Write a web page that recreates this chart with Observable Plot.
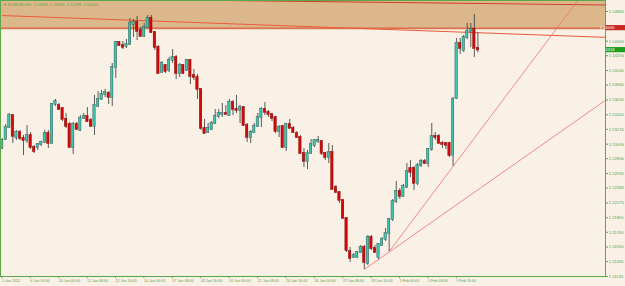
<!DOCTYPE html>
<html><head><meta charset="utf-8">
<script src="https://cdn.jsdelivr.net/npm/d3@7"></script>
<script src="https://cdn.jsdelivr.net/npm/@observablehq/plot@0.6"></script>
<style>
html,body{margin:0;padding:0;background:#f9f0e6;overflow:hidden;}
#chart{width:625px;height:286px;}
</style></head><body><div id="chart"></div>
<script>
// ---- data (EURUSD H4, first bar 5 Jan 2022 08:00) ----
const symbolName = "EURUSD,H4";
const headerQuote = ["1.14363", "1.14838", "1.14298", "1.14334"];

const opens = [1.12944,1.13071,1.13241,1.13410,1.13099,1.13170,1.13085,1.13057,1.13128,1.12958,
1.12958,1.13000,1.13029,1.13156,1.13015,1.13566,1.13552,1.13509,1.13354,1.13283,
1.12958,1.13283,1.13198,1.13368,1.13396,1.13340,1.13255,1.13537,1.13636,1.13707,
1.13721,1.13665,1.14089,1.14442,1.14400,1.14385,1.14414,1.14696,1.14725,1.14612,
1.14527,1.14654,1.14781,1.14583,1.14371,1.14018,1.14117,1.14046,1.14188,1.14230,
1.14004,1.14117,1.14046,1.14188,1.13976,1.13947,1.13778,1.13227,1.13170,1.13212,
1.13297,1.13396,1.13424,1.13439,1.13410,1.13594,1.13495,1.13481,1.13523,1.13269,
1.13099,1.13170,1.13255,1.13382,1.13495,1.13453,1.13424,1.13382,1.13184,1.13255,
1.12958,1.13283,1.13227,1.13156,1.13099,1.12873,1.12760,1.12873,1.12986,1.13043,
1.13043,1.12873,1.12817,1.12887,1.12393,1.12322,1.12209,1.11955,1.11488,1.11404,
1.11404,1.11474,1.11545,1.11319,1.11686,1.11531,1.11404,1.11573,1.11658,1.11743,
1.11941,1.12195,1.12336,1.12266,1.12393,1.12661,1.12661,1.12449,1.12704,1.12760,
1.12732,1.12930,1.13114,1.13114,1.13015,1.13015,1.13015,1.12845,1.13651,1.14428,
1.14329,1.14513,1.14597,1.14626,1.14363];

const highs = [1.13085,1.13283,1.13439,1.13424,1.13198,1.13198,1.13128,1.13269,1.13170,1.12986,
1.13015,1.13043,1.13198,1.13198,1.13580,1.13636,1.13580,1.13523,1.13439,1.13311,
1.13311,1.13311,1.13410,1.13439,1.13523,1.13368,1.13693,1.13749,1.13764,1.13778,
1.13749,1.14145,1.14456,1.14456,1.14456,1.14484,1.14781,1.14767,1.14809,1.14654,
1.14711,1.14823,1.14823,1.14597,1.14400,1.14173,1.14131,1.14230,1.14343,1.14258,
1.14145,1.14131,1.14202,1.14202,1.14060,1.13990,1.13792,1.13354,1.13297,1.13325,
1.13495,1.13495,1.13580,1.13552,1.13636,1.13622,1.13693,1.13552,1.13537,1.13297,
1.13198,1.13297,1.13439,1.13523,1.13594,1.13481,1.13439,1.13396,1.13269,1.13269,
1.13297,1.13354,1.13255,1.13184,1.13128,1.12944,1.12916,1.13071,1.13071,1.13114,
1.13057,1.12887,1.13015,1.12986,1.12421,1.12336,1.12223,1.11969,1.11545,1.11460,
1.11488,1.11573,1.11573,1.11714,1.11714,1.11573,1.11601,1.11686,1.11814,1.11955,
1.12223,1.12478,1.12379,1.12435,1.12732,1.12774,1.12690,1.12732,1.12788,1.12788,
1.12944,1.13297,1.13170,1.13142,1.13043,1.13029,1.13029,1.13665,1.14498,1.14498,
1.14541,1.14711,1.14711,1.14838,1.14583];

const lows = [1.12930,1.13057,1.13227,1.13015,1.13057,1.13057,1.12845,1.13015,1.12930,1.12873,
1.12916,1.12972,1.13015,1.12944,1.13000,1.13537,1.13481,1.13325,1.13227,1.12944,
1.12859,1.13198,1.13184,1.13354,1.13311,1.13241,1.13128,1.13523,1.13630,1.13665,
1.13566,1.13537,1.13933,1.14385,1.14343,1.14357,1.14400,1.14513,1.14470,1.14513,
1.14513,1.14640,1.14569,1.14329,1.13990,1.14004,1.14004,1.14018,1.14145,1.13919,
1.13947,1.13990,1.14032,1.13848,1.13905,1.13636,1.13198,1.13142,1.13156,1.13198,
1.13283,1.13368,1.13382,1.13410,1.13396,1.13410,1.13439,1.13297,1.13255,1.13029,
1.13015,1.13156,1.13241,1.13241,1.13410,1.13382,1.13325,1.13156,1.13099,1.12944,
1.12902,1.13220,1.13156,1.13085,1.12859,1.12675,1.12647,1.12859,1.12958,1.13015,
1.12845,1.12774,1.12732,1.12350,1.12308,1.12167,1.11941,1.11474,1.11333,1.11389,
1.11389,1.11460,1.11234,1.11290,1.11502,1.11460,1.11375,1.11559,1.11630,1.11488,
1.11912,1.12167,1.12223,1.12252,1.12379,1.12534,1.12350,1.12421,1.12675,1.12718,
1.12675,1.12902,1.13057,1.13005,1.12944,1.12930,1.12817,1.12690,1.13636,1.14272,
1.14301,1.14484,1.14371,1.14230,1.14298];

const closes = [1.13057,1.13241,1.13410,1.13114,1.13170,1.13085,1.13057,1.13128,1.12958,1.12902,
1.13000,1.13029,1.13156,1.13015,1.13566,1.13608,1.13495,1.13354,1.13255,1.12958,
1.13283,1.13212,1.13368,1.13396,1.13325,1.13255,1.13552,1.13636,1.13707,1.13735,
1.13665,1.14089,1.14442,1.14400,1.14371,1.14414,1.14711,1.14725,1.14597,1.14527,
1.14654,1.14781,1.14583,1.14371,1.14004,1.14145,1.14032,1.14188,1.14230,1.14004,
1.14117,1.14004,1.14188,1.13961,1.13947,1.13778,1.13227,1.13156,1.13227,1.13297,
1.13396,1.13439,1.13439,1.13424,1.13594,1.13495,1.13481,1.13523,1.13269,1.13099,
1.13170,1.13255,1.13382,1.13495,1.13453,1.13424,1.13368,1.13184,1.13241,1.12958,
1.13283,1.13227,1.13170,1.13099,1.12873,1.12760,1.12873,1.13000,1.13057,1.13057,
1.12873,1.12817,1.12887,1.12365,1.12322,1.12209,1.11955,1.11502,1.11389,1.11432,
1.11474,1.11545,1.11333,1.11686,1.11531,1.11474,1.11587,1.11658,1.11743,1.11941,
1.12195,1.12336,1.12266,1.12407,1.12619,1.12605,1.12449,1.12704,1.12760,1.12732,
1.12930,1.13114,1.13099,1.13015,1.13000,1.12986,1.12845,1.13636,1.14428,1.14357,
1.14513,1.14597,1.14626,1.14357,1.14334];

// time axis: bar index of each label and its text
const timeTickBars = [0,8,16,24,32,40,48,56,64,72,80,88,96,104,112,120,128];
const timeTickLabels = ["5 Jan 2022","6 Jan 16:00","10 Jan 00:00","11 Jan 08:00","12 Jan 16:00",
"14 Jan 00:00","17 Jan 08:00","18 Jan 16:00","20 Jan 00:00","21 Jan 08:00","24 Jan 16:00",
"26 Jan 00:00","27 Jan 08:00","28 Jan 16:00","1 Feb 00:00","2 Feb 08:00","3 Feb 16:00"];

// price axis labels
const priceTicks = [1.14880,1.14460,1.14255,1.14045,1.13840,1.13630,1.13420,1.13215,1.13005,
1.12800,1.12590,1.12385,1.12175,1.11965,1.11760,1.11550,1.11345,1.11135];

// visible price window and bar window
const priceWindow = [1.11135, 1.150355];
const barWindow = [-0.479, 169.94];

// supply zone and its level
const zoneTop = [1.1510];
const zoneBottom = [1.14619];
const levelPrice = [1.14645];
const levelLabel = ["1.14665"];
const currentPrice = [1.14334];
const currentLabel = ["1.14334"];

// trend lines (bar index, price) anchors
const lineStartBar   = [0, 0, 102, 109];
const lineStartPrice = [1.15073, 1.14823, 1.11234, 1.11488];
const lineEndBar     = [169.94, 169.94, 169.94, 170];
const lineEndPrice   = [1.14972, 1.14515, 1.13626, 1.15563];

// ---- build ----
const candles = opens.map((o, i) => ({i, open: o, high: highs[i], low: lows[i], close: closes[i], up: closes[i] >= o}));
const lines = lineStartBar.map((b, k) => ({k, x1: b, y1: lineStartPrice[k], x2: lineEndBar[k], y2: lineEndPrice[k]}));

const GREEN = "#5da64a";
const TEAL = "#3cc6b2";
const RED = "#d40a0a";
const lineStroke = ["#c9402e", "#ea5a3c", "#f07070", "#f07070"];
const lineWidth = [1, 1, 0.8, 0.8];

const chart = Plot.plot({
  width: 625, height: 286,
  marginLeft: 0, marginRight: 20, marginTop: 0, marginBottom: 10,
  style: {background: "#f9f0e6", fontFamily: "'Liberation Sans', Arial, sans-serif", overflow: "visible"},
  x: {type: "linear", domain: barWindow},
  y: {type: "linear", domain: priceWindow},
  marks: [
    Plot.rect(zoneTop.map((t, k) => ({top: t, bottom: zoneBottom[k]})), {y1: "bottom", y2: "top", fill: "#dcb78b", clip: true}),
    Plot.ruleY(levelPrice, {stroke: "#dc4a32", strokeWidth: 1}),
    Plot.link(lines, {x1: "x1", y1: "y1", x2: "x2", y2: "y2",
      stroke: d => lineStroke[d.k], strokeWidth: d => lineWidth[d.k], clip: true}),
    Plot.ruleX(candles, {x: "i", y1: "low", y2: "high", stroke: "#4a4a4a", strokeWidth: 0.9}),
    Plot.rect(candles, {x1: d => d.i - 0.33, x2: d => d.i + 0.33, y1: "open", y2: "close",
      fill: d => d.up ? TEAL : RED, stroke: d => d.up ? "#2f5e57" : "#8a0000", strokeWidth: 0.5,
      insetTop: -0.35, insetBottom: -0.35}),
    Plot.axisX({ticks: timeTickBars, tickFormat: d => timeTickLabels[timeTickBars.indexOf(d)],
      textAnchor: "start", tickSize: 2, tickPadding: 1, fontSize: 3.7, color: GREEN, label: null, dx: -0.3}),
    Plot.axisY({anchor: "right", ticks: priceTicks, tickFormat: d3.format(".5f"),
      tickSize: 2, tickPadding: 1.2, fontSize: 4.2, color: GREEN, label: null}),
    Plot.frame({stroke: GREEN, strokeWidth: 1}),
    Plot.text(["\u25BC " + symbolName + "  " + headerQuote.join("  ")], {frameAnchor: "top-left",
      text: d => d, dx: 2.5, dy: 2.6, fontSize: 4, fill: GREEN, lineAnchor: "top"})
  ]
});
document.getElementById("chart").append(chart);

// price-scale badges for the level and the current price, positioned with Plot's y scale
const ys = chart.scale("y");
const svg = d3.select(chart);
function badge(price, label, color) {
  const y = ys.apply(price);
  const g = svg.append("g");
  g.append("rect").attr("x", 605.5).attr("y", y - 2.6).attr("width", 19.5).attr("height", 5.2).attr("fill", color);
  g.append("text").attr("x", 607).attr("y", y).attr("dy", "0.36em").attr("fill", "#ffffff")
    .attr("font-size", 4.2).attr("font-family", "'Liberation Sans', Arial, sans-serif").text(label);
}
badge(levelPrice[0], levelLabel[0], "#c62a22");
badge(currentPrice[0], currentLabel[0], "#1f9e1f");
</script>
</body></html>
